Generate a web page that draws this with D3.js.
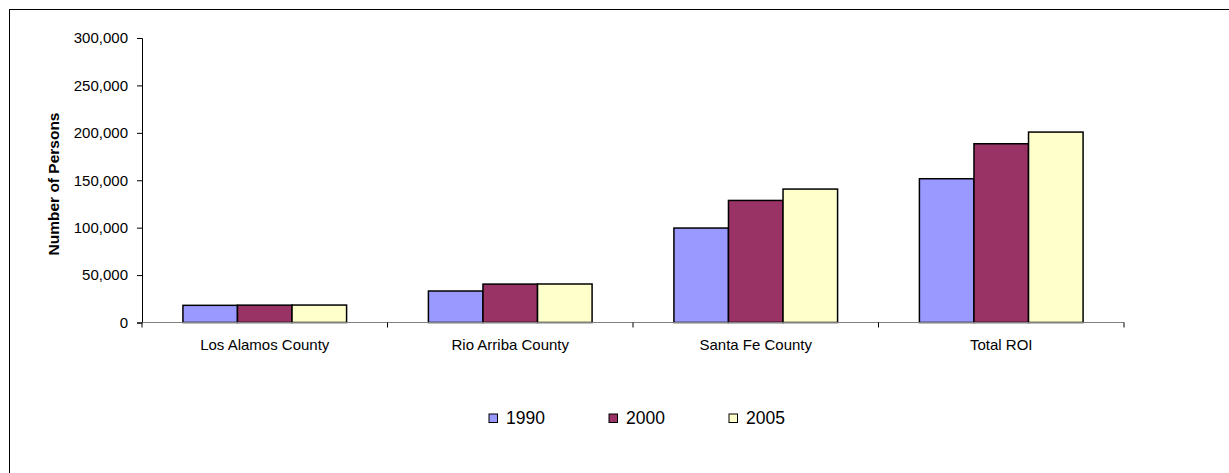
<!DOCTYPE html>
<html>
<head>
<meta charset="utf-8">
<script src="https://cdn.jsdelivr.net/npm/d3@7"></script>
<style>
  html, body { margin: 0; padding: 0; background: #fff; }
  svg { display: block; }
  text { font-family: Arial, "Liberation Sans", sans-serif; fill: #000; }
</style>
</head>
<body>
<svg id="chart" width="1229" height="473"></svg>
<script>
const categories = ["Los Alamos County", "Rio Arriba County", "Santa Fe County", "Total ROI"];
const seriesNames = ["1990", "2000", "2005"];
const values1990 = [18100, 33200, 99600, 151600];
const values2000 = [18300, 40500, 128700, 188500];
const values2005 = [18400, 40600, 140700, 200800];
const yTicks = [0, 50000, 100000, 150000, 200000, 250000, 300000];
const colors = ["#9999FF", "#993366", "#FFFFCC"];
const yTitle = "Number of Persons";

const seriesValues = [values1990, values2000, values2005];

const svg = d3.select("#chart");

// outer frame
svg.append("rect")
  .attr("x", 9.5).attr("y", 9.5)
  .attr("width", 1300).attr("height", 600)
  .attr("fill", "none").attr("stroke", "#000").attr("stroke-width", 1);

const plot = { left: 142, right: 1124, top: 38, bottom: 322.5 };

const x = d3.scaleBand().domain(categories).range([plot.left, plot.right]).padding(0);
const xInner = d3.scaleBand().domain(seriesNames).range([0, x.bandwidth()])
  .paddingInner(0).paddingOuter(0.75);
const y = d3.scaleLinear().domain([0, 300000]).range([plot.bottom, plot.top]);

// bars
const g = svg.append("g");
categories.forEach((cat, ci) => {
  seriesNames.forEach((s, si) => {
    const v = seriesValues[si][ci];
    g.append("rect")
      .attr("x", x(cat) + xInner(s))
      .attr("y", y(v))
      .attr("width", xInner.bandwidth())
      .attr("height", y(0) - y(v))
      .attr("fill", colors[si])
      .attr("stroke", "#000")
      .attr("stroke-width", 1.5);
  });
});

// y axis
const yAxis = d3.axisLeft(y).tickValues(yTicks).tickSize(5).tickPadding(9)
  .tickFormat(d3.format(","));
const ya = svg.append("g").attr("transform", `translate(${plot.left},0)`).call(yAxis);
ya.select(".domain").attr("stroke", "#000").attr("stroke-width", 1);
ya.selectAll(".tick line").attr("stroke", "#000");
ya.selectAll(".tick text").attr("font-size", 15).attr("font-family", "Arial, 'Liberation Sans', sans-serif").attr("fill", "#000");

// x axis
const xa = svg.append("g").attr("transform", `translate(0,${plot.bottom})`);
xa.append("line").attr("x1", plot.left).attr("x2", plot.right)
  .attr("y1", 0).attr("y2", 0).attr("stroke", "#808080").attr("stroke-width", 1.2);
const boundaries = categories.map(c => x(c)).concat([plot.right]);
xa.selectAll("line.tk").data(boundaries).enter().append("line")
  .attr("class", "tk")
  .attr("x1", d => d).attr("x2", d => d).attr("y1", 0).attr("y2", 5)
  .attr("stroke", "#000").attr("stroke-width", 1);
xa.selectAll("text").data(categories).enter().append("text")
  .attr("x", d => x(d) + x.bandwidth() / 2)
  .attr("y", 27.5)
  .attr("text-anchor", "middle")
  .attr("font-size", 15)
  .text(d => d);

// y title
svg.append("text")
  .attr("transform", `translate(59,184) rotate(-90)`)
  .attr("text-anchor", "middle")
  .attr("font-size", 15.5)
  .attr("font-weight", "bold")
  .text(yTitle);

// legend
const legendX = d3.scalePoint().domain(seriesNames).range([489, 729]);
const lg = svg.append("g");
seriesNames.forEach((s, i) => {
  lg.append("rect")
    .attr("x", legendX(s)).attr("y", 414)
    .attr("width", 8.5).attr("height", 8.5)
    .attr("fill", colors[i]).attr("stroke", "#000").attr("stroke-width", 1);
  lg.append("text")
    .attr("x", legendX(s) + 17).attr("y", 424)
    .attr("font-size", 17.5)
    .text(s);
});
</script>
</body>
</html>
